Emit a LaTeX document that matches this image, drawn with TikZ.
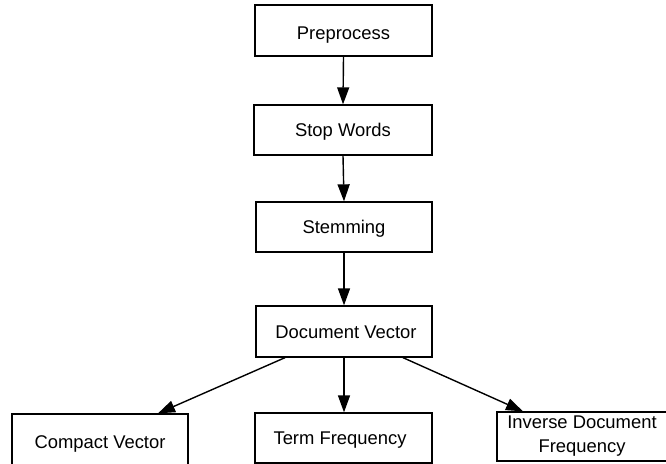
\documentclass[tikz,border=0pt]{standalone}
\usepackage{fontspec}
\setmainfont{Liberation Sans}
\usetikzlibrary{arrows.meta}
\begin{document}
\begin{tikzpicture}[x=1pt,y=-1pt,
  box/.style={draw=black, line width=1.3pt, rectangle, inner sep=0pt,
    font=\fontsize{18.4}{24}\selectfont, align=center},
  oneline/.style={text height=13.2pt, text depth=0pt},
  flow/.style={draw=black, line width=1.4pt, -{Triangle[length=17pt,width=12pt]}}]
  \useasboundingbox (0,0) rectangle (666,463);
  \clip (0,0) rectangle (666,463);
  \fill[white] (0,0) rectangle (666,463);

  % processing chain
  \node[box, oneline, minimum width=177pt, minimum height=51pt] (pre)  at (343.5,30.5) {\raisebox{-2pt}{Preprocess}};
  \node[box, oneline, minimum width=178pt, minimum height=50pt] (sw)   at (343,130)    {Stop Words};
  \node[box, oneline, minimum width=176pt, minimum height=50pt] (stem) at (344,227)    {Stemming};
  \node[box, oneline, minimum width=176pt, minimum height=51pt] (dv)   at (344,331.5)  {\hspace*{4pt}Document Vector};

  % outputs
  \node[box, oneline, minimum width=176pt, minimum height=56pt] (cv)  at (100,442)   {Compact Vector};
  \node[box, oneline, minimum width=177pt, minimum height=50pt] (tf)  at (343.5,438) {\hspace*{-7pt}Term Frequency};
  \node[box, minimum width=170pt, minimum height=49pt] (idf) at (582,436.5) {Inverse Document\\Frequency};

  \draw[flow] (pre.south) -- (sw.north);
  \draw[flow] (sw.south) -- (stem.north);
  \draw[flow] (stem.south) -- (dv.north);
  \draw[flow] ([xshift=-59pt]dv.south) -- ([xshift=58pt]cv.north);
  \draw[flow] (dv.south) -- (dv.south |- tf.north);
  \draw[flow] ([xshift=59pt]dv.south) -- ([xshift=-59pt]idf.north);
\end{tikzpicture}
\end{document}
